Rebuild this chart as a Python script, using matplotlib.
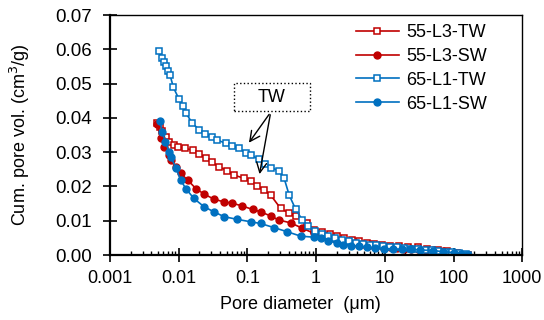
import matplotlib
matplotlib.use("Agg")
import matplotlib.pyplot as plt
from matplotlib.patches import Rectangle
from matplotlib.ticker import LogLocator, NullFormatter, FixedLocator

plt.rcParams['font.family'] = ['Liberation Sans', 'DejaVu Sans']

# 55-L3-TW (red, open squares)
d_55_tw = [0.0048, 0.0053, 0.0058, 0.0065, 0.0073, 0.0086, 0.0098, 0.0123, 0.0164, 0.0199,
           0.0249, 0.0311, 0.0388, 0.0514, 0.0640, 0.0893, 0.112, 0.140, 0.175, 0.218,
           0.305, 0.406, 0.506, 0.749, 0.94, 1.24, 1.6, 2.0, 2.55, 3.3, 4.2, 5.55, 7.0,
           9.0, 12.1, 16, 21.5, 30, 41.5, 60, 81, 113, 165]
v_55_tw = [0.0384, 0.0374, 0.0362, 0.0345, 0.0330, 0.0321, 0.0316, 0.0311, 0.0306, 0.0296,
           0.0282, 0.0270, 0.0257, 0.0246, 0.0233, 0.0224, 0.0216, 0.0201, 0.0189, 0.0175,
           0.0136, 0.0122, 0.0114, 0.0092, 0.0073, 0.0068, 0.0060, 0.0055, 0.0049, 0.0044,
           0.0040, 0.0036, 0.0032, 0.0029, 0.0026, 0.0025, 0.0024, 0.0022, 0.0019, 0.0016,
           0.0013, 0.0005, 0.0]

# 55-L3-SW (red, filled circles)
d_55_sw = [0.0049, 0.0055, 0.0062, 0.0073, 0.0077, 0.0091, 0.0107, 0.0135, 0.0178, 0.0234,
           0.0327, 0.0457, 0.0606, 0.0850, 0.119, 0.156, 0.218, 0.288, 0.425, 0.634, 0.94,
           1.2, 1.5, 1.9, 2.4, 3.0, 3.8, 4.8, 6.0, 7.5, 9.5, 12, 15, 19, 24, 30, 40, 50,
           70, 100, 130, 165]
v_55_sw = [0.0382, 0.0340, 0.0316, 0.0292, 0.0277, 0.0257, 0.0238, 0.0219, 0.0194, 0.0178,
           0.0163, 0.0155, 0.0151, 0.0143, 0.0133, 0.0126, 0.0114, 0.0102, 0.0094, 0.0078,
           0.0063, 0.0057, 0.0051, 0.0046, 0.0041, 0.0037, 0.0034, 0.0031, 0.0028, 0.0026,
           0.0024, 0.0022, 0.0021, 0.0019, 0.0018, 0.0017, 0.0015, 0.0014, 0.0011, 0.0007,
           0.0004, 0.0]

# 65-L1-TW (blue, open squares)
d_65_tw = [0.0051, 0.0057, 0.0062, 0.0066, 0.0070, 0.0075, 0.0084, 0.0101, 0.0114, 0.0127,
           0.0159, 0.0199, 0.0240, 0.0311, 0.0367, 0.0488, 0.0606, 0.0759, 0.0944, 0.112,
           0.148, 0.179, 0.218, 0.288, 0.343, 0.406, 0.506, 0.634, 0.765, 0.96, 1.2, 1.5,
           1.9, 2.4, 3.0, 3.8, 4.8, 6.0, 7.5, 9.5, 12, 15, 19, 24, 30, 38, 48, 60, 75, 95,
           120, 150, 165]
v_65_tw = [0.0595, 0.0575, 0.0563, 0.0551, 0.0536, 0.0525, 0.0489, 0.0455, 0.0434, 0.0415,
           0.0384, 0.0366, 0.0353, 0.0343, 0.0335, 0.0326, 0.0319, 0.0311, 0.0298, 0.0292,
           0.0279, 0.0265, 0.0255, 0.0246, 0.0224, 0.0175, 0.0133, 0.0102, 0.0085, 0.0071,
           0.0062, 0.0055, 0.0049, 0.0044, 0.0040, 0.0036, 0.0033, 0.0030, 0.0028, 0.0026,
           0.0024, 0.0022, 0.0021, 0.0019, 0.0018, 0.0016, 0.0014, 0.0012, 0.0010, 0.0008,
           0.0005, 0.0002, 0.0]

# 65-L1-SW (blue, filled circles)
d_65_sw = [0.0053, 0.0058, 0.0064, 0.0073, 0.0077, 0.0091, 0.0107, 0.0127, 0.0167, 0.0234,
           0.0327, 0.0457, 0.0714, 0.112, 0.156, 0.244, 0.38, 0.60, 0.94, 1.17, 1.5, 2.0,
           2.5, 3.2, 4.2, 5.55, 7.2, 9.6, 13, 18, 23.7, 32, 50, 70, 100, 130, 165]
v_65_sw = [0.0391, 0.0360, 0.0330, 0.0301, 0.0287, 0.0255, 0.0219, 0.0194, 0.0165, 0.0141,
           0.0126, 0.0112, 0.0104, 0.0097, 0.0092, 0.0080, 0.0068, 0.0055, 0.0052, 0.0049,
           0.0042, 0.0035, 0.0029, 0.0027, 0.0025, 0.0024, 0.0021, 0.0019, 0.0018, 0.0017,
           0.0017, 0.0015, 0.0013, 0.0010, 0.0007, 0.0003, 0.0]

x_ticks = [0.001, 0.01, 0.1, 1, 10, 100, 1000]
x_labels = ['0.001', '0.01', '0.1', '1', '10', '100', '1000']
y_ticks = [0, 0.01, 0.02, 0.03, 0.04, 0.05, 0.06, 0.07]
y_labels = ['0.00', '0.01', '0.02', '0.03', '0.04', '0.05', '0.06', '0.07']

red = '#C00000'
blue = '#0070C0'

fig = plt.figure(figsize=(5.44, 3.2), dpi=100)
ax = fig.add_axes([0.202, 0.203, 0.758, 0.750])

ax.plot(d_55_tw, v_55_tw, color=red, lw=1.2, marker='s', ms=4.2, mfc='white', mec=red, mew=1.1, label='55-L3-TW')
ax.plot(d_55_sw, v_55_sw, color=red, lw=1.2, marker='o', ms=5, mfc=red, mec=red, label='55-L3-SW')
ax.plot(d_65_tw, v_65_tw, color=blue, lw=1.2, marker='s', ms=4.2, mfc='white', mec=blue, mew=1.1, label='65-L1-TW')
ax.plot(d_65_sw, v_65_sw, color=blue, lw=1.2, marker='o', ms=5, mfc=blue, mec=blue, label='65-L1-SW')

ax.set_xscale('log')
ax.set_xlim(0.001, 1000)
ax.set_ylim(0, 0.07)
ax.xaxis.set_major_locator(FixedLocator(x_ticks))
ax.set_xticklabels(x_labels)
ax.xaxis.set_minor_locator(LogLocator(base=10, subs=range(2, 10), numticks=20))
ax.xaxis.set_minor_formatter(NullFormatter())
ax.set_yticks(y_ticks)
ax.set_yticklabels(y_labels)

ax.tick_params(axis='both', which='major', direction='inout', length=10, width=1.2, labelsize=13, colors='black')
ax.tick_params(axis='x', which='minor', direction='in', length=3, width=1.0)
ax.tick_params(axis='x', which='major', pad=6)
ax.tick_params(axis='y', which='major', labelsize=13.5, pad=8)
for s in ax.spines.values():
    s.set_linewidth(1.0)
ax.spines['left'].set_linewidth(1.6)
ax.spines['bottom'].set_linewidth(1.6)

ax.set_xlabel('Pore diameter  (\u03bcm)', fontsize=13)
ax.set_ylabel('Cum. pore vol. (cm$^3$/g)', fontsize=13)
ax.xaxis.set_label_coords(0.461, -0.17)
ax.yaxis.set_label_coords(-0.19, 0.5)

leg = ax.legend(loc='upper left', bbox_to_anchor=(0.565, 1.015), frameon=False, fontsize=13,
                handlelength=2.4, labelspacing=0.38, handletextpad=0.4, borderpad=0.2)

# TW annotation box with two arrows
ax.add_patch(Rectangle((0.301, 0.60), 0.184, 0.117, transform=ax.transAxes, fill=False,
                       linestyle=':', linewidth=1.0, edgecolor='black'))
ax.text(0.393, 0.658, 'TW', transform=ax.transAxes, ha='center', va='center', fontsize=13)
ax.annotate('', xy=(0.1, 0.0321), xytext=(0.219, 0.0417),
            arrowprops=dict(arrowstyle='->', color='black', lw=1.0, mutation_scale=18))
ax.annotate('', xy=(0.148, 0.0228), xytext=(0.219, 0.0417),
            arrowprops=dict(arrowstyle='->', color='black', lw=1.0, mutation_scale=18))

fig.savefig('out.png', dpi=100)
